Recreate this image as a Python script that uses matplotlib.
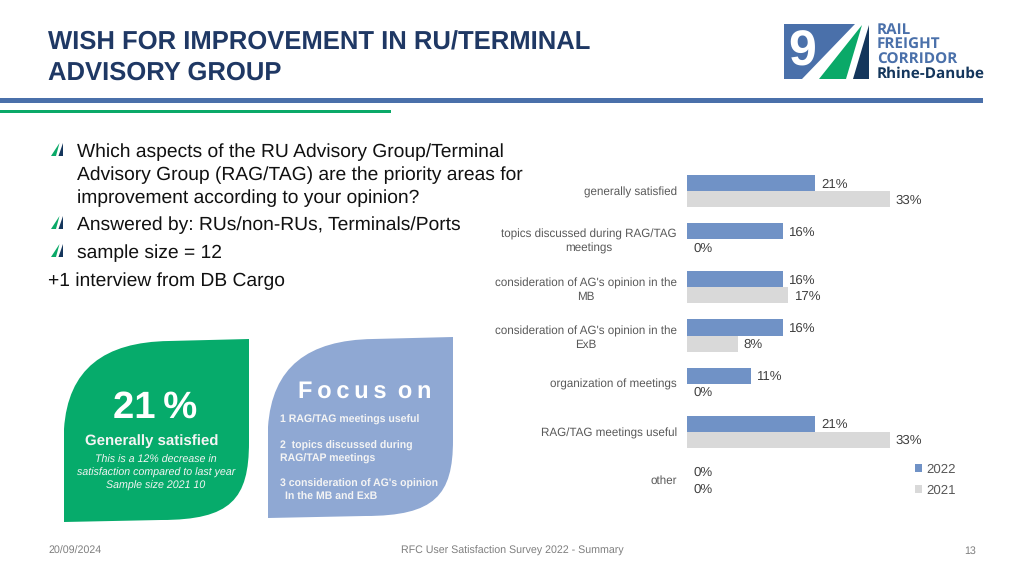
import matplotlib
matplotlib.use('Agg')
import matplotlib.pyplot as plt
from matplotlib.patches import PathPatch, Polygon, Rectangle
from matplotlib.path import Path

plt.rcParams['font.family'] = ['Liberation Sans', 'DejaVu Sans']
plt.rcParams['text.hinting'] = 'no_hinting'

categories = ['generally satisfied', 'topics discussed during RAG/TAG\nmeetings',
              "consideration of AG's opinion in the\nMB", "consideration of AG's opinion in the\nExB",
              'organization of meetings', 'RAG/TAG meetings useful', 'other']
values_2022 = [21.05, 15.79, 15.79, 15.79, 10.53, 21.05, 0]
values_2021 = [33.33, 0, 16.67, 8.33, 0, 33.33, 0]
years = ['2022', '2021']

NAVY = '#1f3864'
BLUE = '#7092c6'
GREY = '#d9d9d9'
GREEN = '#06ab6b'
SOFT = '#8fa8d3'
LINE_BLUE = '#4a70aa'
LINE_GREEN = '#0aa968'
DARK = '#14365c'

fig = plt.figure(figsize=(10.24, 5.76), dpi=100)

# whole slide in pixel coordinates
bg = fig.add_axes([0, 0, 1, 1])
bg.set_xlim(0, 1024)
bg.set_ylim(576, 0)
bg.axis('off')

bg.text(48, 43, 'WISH FOR IMPROVEMENT IN RU/TERMINAL', fontsize=18.45, fontweight='bold', color=NAVY, va='center')
bg.text(48, 73, 'ADVISORY GROUP', fontsize=18.45, fontweight='bold', color=NAVY, va='center')
bg.add_patch(Rectangle((0, 98), 983, 5, color=LINE_BLUE, lw=0))
bg.add_patch(Rectangle((0, 110), 391, 3, color=LINE_GREEN, lw=0))

# logo
bg.add_patch(Polygon([(784, 24), (855, 24), (802, 79), (784, 79)], color=LINE_BLUE, lw=0))
bg.add_patch(Polygon([(819, 79), (862, 25), (846, 79)], color=LINE_GREEN, lw=0))
bg.add_patch(Polygon([(853, 79), (869, 25), (869, 79)], color=DARK, lw=0))
bg.text(802, 53, '9', fontsize=36, fontweight='bold', color='white', ha='center', va='center')
for y, s, c in [(30, 'RAIL', LINE_BLUE), (45, 'FREIGHT', LINE_BLUE), (60, 'CORRIDOR', LINE_BLUE), (74, 'Rhine-Danube', DARK)]:
    bg.text(877, y, s, fontsize=11, fontweight='bold', family='Open Sans', color=c, va='center')

# question text
lines = ['Which aspects of the RU Advisory Group/Terminal', 'Advisory Group (RAG/TAG) are the priority areas for',
         'improvement according to your opinion?', 'Answered by: RUs/non-RUs, Terminals/Ports', 'sample size = 12']
for y, s in zip([152, 175, 198, 225, 253], lines):
    bg.text(77, y, s, fontsize=13.85, color='#111111', va='center')
bg.text(48, 281, '+1 interview from DB Cargo', fontsize=13.85, color='#111111', va='center')
for y in [156, 229, 257]:
    bg.add_patch(Polygon([(51, y), (59.5, y - 13), (56, y)], color=LINE_GREEN, lw=0))
    bg.add_patch(Polygon([(58.5, y), (63, y - 13), (63, y)], color=DARK, lw=0))


def leaf(x0, x1, y0, y1, color):
    verts = [(x0, y1), (x0, y0 + 90), (x0 + 4, y0 + 30), (x0 + 40, y0 + 3), (x0 + 105, y0 + 2), (x1, y0),
             (x1, y0 + 103), (x1, y1 - 23), (x1 - 18, y1 - 2), (x1 - 88, y1 - 2), (x0, y1), (x0, y1)]
    codes = [Path.MOVETO, Path.LINETO, Path.CURVE4, Path.CURVE4, Path.CURVE4, Path.LINETO,
             Path.LINETO, Path.CURVE4, Path.CURVE4, Path.CURVE4, Path.LINETO, Path.CLOSEPOLY]
    bg.add_patch(PathPatch(Path(verts, codes), facecolor=color, edgecolor='none'))


leaf(64, 249, 339, 522, GREEN)
leaf(268, 453, 337, 518, SOFT)

bg.text(155, 408, '21\u2009%', fontsize=27.5, fontweight='bold', color='white', ha='center', va='center')
bg.text(152, 441, 'Generally satisfied', fontsize=10.8, fontweight='bold', color='#f4f4f4', ha='center', va='center')
for y, s in zip([460, 473, 486], ['This is a 12% decrease in', 'satisfaction compared to last year', 'Sample size 2021 10']):
    bg.text(156, y, s, fontsize=7.65, style='italic', color='#f4f4f4', ha='center', va='center')

bg.text(365, 392, 'F\u2009o\u2009c\u2009u\u2009s \u2009o\u2009n', fontsize=17, fontweight='bold', color='white', ha='center', va='center')
focus = [(280, 420, '1 RAG/TAG meetings useful'), (280, 446, '2  topics discussed during'),
         (280, 459, 'RAG/TAP meetings'), (280, 484, "3 consideration of AG's opinion"),
         (285, 497, 'In the MB and ExB')]
for x, y, s in focus:
    bg.text(x, y, s, fontsize=7.6, fontweight='bold', color='#f4f4f4', va='center')

# footer
bg.text(48, 551, '20/09/2024', fontsize=7.65, color='#7f7f7f', va='center')
bg.text(512, 551, 'RFC User Satisfaction Survey 2022 - Summary', fontsize=7.65, color='#7f7f7f', va='center', ha='center')
bg.text(976, 551, '13', fontsize=7.65, color='#7f7f7f', va='center', ha='right')

# bar chart
ax = fig.add_axes([687 / 1024, 1 - 504 / 576, 273 / 1024, 337 / 576])
ax.patch.set_alpha(0)
pos = list(range(len(categories)))
h = 0.335
bars_a = ax.barh([p - h / 2 for p in pos], values_2022, height=h, color=BLUE, label=years[0])
bars_b = ax.barh([p + h / 2 for p in pos], values_2021, height=h, color=GREY, label=years[1])
ax.set_xlim(0, 273 / 6.08)
ax.set_ylim(len(categories) - 0.5, -0.5)
for bars in (bars_a, bars_b):
    for t in ax.bar_label(bars, fmt='%.0f%%', padding=4.5, fontsize=9.5, color='#404040'):
        t.xyann = (t.xyann[0], -0.8)
ax.set_yticks(pos)
ax.set_yticklabels(categories, fontsize=8.4, color='#595959', multialignment='center', linespacing=1.3)
ax.tick_params(axis='y', length=0, pad=7.2)
ax.set_xticks([])
for side in ax.spines.values():
    side.set_visible(False)

leg = ax.legend(loc='lower right', bbox_to_anchor=(1.011, 0.0), frameon=False, fontsize=9.5,
                handlelength=0.55, handleheight=0.55, handletextpad=0.3, labelspacing=0.7,
                borderpad=0, borderaxespad=0.55, labelcolor='#595959')

fig.savefig('out.png', dpi=100)
